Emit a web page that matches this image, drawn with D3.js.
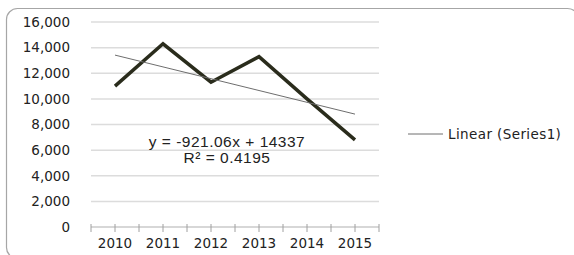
<!DOCTYPE html>
<html>
<head>
<meta charset="utf-8">
<script src="https://cdn.jsdelivr.net/npm/d3@7"></script>
<style>
  body { margin: 0; background: #fff; }
  svg { display: block; }
</style>
</head>
<body>
<div id="chart"></div>
<script>
// values
const years = ["2010", "2011", "2012", "2013", "2014", "2015"];
const values = [11000, 14300, 11300, 13300, 10000, 6800];
const yTicks = [0, 2000, 4000, 6000, 8000, 10000, 12000, 14000, 16000];
// trendline as printed on the chart
const slope = -921.06;
const intercept = 14337;
const eqText = "y = -921.06x + 14337";
const r2Text = "R² = 0.4195";
const legendText = "Linear (Series1)";

const width = 574, height = 255;

const svg = d3.select("#chart")
  .append("svg")
  .attr("width", width)
  .attr("height", height);

// outer frame
svg.append("rect")
  .attr("x", 6.5).attr("y", 8.5)
  .attr("width", 572).attr("height", 250)
  .attr("rx", 11)
  .attr("fill", "none")
  .attr("stroke", "#a6a6a6")
  .attr("stroke-width", 1.2);

const x = d3.scaleBand().domain(years).range([91, 379]);
const y = d3.scaleLinear().domain([0, 16000]).range([227, 22]);

// gridlines
svg.append("g")
  .selectAll("line")
  .data(yTicks.filter(d => d > 0))
  .join("line")
  .attr("x1", 91).attr("x2", 379)
  .attr("y1", d => y(d)).attr("y2", d => y(d))
  .attr("stroke", "#dcdcdc")
  .attr("stroke-width", 1.5);

// y labels
svg.append("g")
  .selectAll("text")
  .data(yTicks)
  .join("text")
  .attr("x", 70)
  .attr("y", d => y(d))
  .attr("dy", "0.36em")
  .attr("text-anchor", "end")
  .attr("font-family", "DejaVu Sans, Verdana, sans-serif")
  .attr("font-size", 13.5)
  .attr("fill", "#222")
  .text(d => d3.format(",")(d));

// x axis with ticks at band edges and centers
svg.append("line")
  .attr("x1", 91).attr("x2", 379)
  .attr("y1", y(0)).attr("y2", y(0))
  .attr("stroke", "#b0b0b0")
  .attr("stroke-width", 1.2);

const tickXs = [];
years.forEach(d => { tickXs.push(x(d)); tickXs.push(x(d) + x.bandwidth() / 2); });
tickXs.push(x.range()[1]);

svg.append("g")
  .selectAll("line")
  .data(tickXs)
  .join("line")
  .attr("x1", d => d).attr("x2", d => d)
  .attr("y1", y(0) - 3).attr("y2", y(0) + 5)
  .attr("stroke", "#a0a0a0")
  .attr("stroke-width", 1);

svg.append("g")
  .selectAll("text")
  .data(years)
  .join("text")
  .attr("x", d => x(d) + x.bandwidth() / 2)
  .attr("y", 243)
  .attr("dy", "0.36em")
  .attr("text-anchor", "middle")
  .attr("font-family", "DejaVu Sans, Verdana, sans-serif")
  .attr("font-size", 13.5)
  .attr("fill", "#222")
  .text(d => d);

const cx = d => x(d) + x.bandwidth() / 2;

// data line
svg.append("path")
  .datum(values)
  .attr("fill", "none")
  .attr("stroke", "#2a2c1c")
  .attr("stroke-width", 3.5)
  .attr("stroke-linejoin", "miter")
  .attr("d", d3.line().x((d, i) => cx(years[i])).y(d => y(d)));

// trendline
const trend = years.map((d, i) => intercept + slope * (i + 1));
svg.append("path")
  .datum([trend[0], trend[trend.length - 1]])
  .attr("fill", "none")
  .attr("stroke", "#6e6e6e")
  .attr("stroke-width", 1)
  .attr("d", d3.line()
    .x((d, i) => i === 0 ? cx(years[0]) : cx(years[years.length - 1]))
    .y(d => y(d)));

// equation label
svg.append("text")
  .attr("x", 227).attr("y", 141)
  .attr("dy", "0.36em")
  .attr("text-anchor", "middle")
  .attr("font-family", "Liberation Sans, Arial, sans-serif")
  .attr("font-size", 15.5)
  .attr("letter-spacing", 0.5)
  .attr("fill", "#222")
  .text(eqText);

svg.append("text")
  .attr("x", 227).attr("y", 157)
  .attr("dy", "0.36em")
  .attr("text-anchor", "middle")
  .attr("font-family", "Liberation Sans, Arial, sans-serif")
  .attr("font-size", 15.5)
  .attr("letter-spacing", 0.5)
  .attr("fill", "#222")
  .text(r2Text);

// legend
svg.append("line")
  .attr("x1", 408).attr("x2", 443)
  .attr("y1", 134).attr("y2", 134)
  .attr("stroke", "#6e6e6e")
  .attr("stroke-width", 1);

svg.append("text")
  .attr("x", 448).attr("y", 134)
  .attr("dy", "0.36em")
  .attr("font-family", "DejaVu Sans, Verdana, sans-serif")
  .attr("font-size", 13.5)
  .attr("letter-spacing", 0.4)
  .attr("fill", "#222")
  .text(legendText);
</script>
</body>
</html>
